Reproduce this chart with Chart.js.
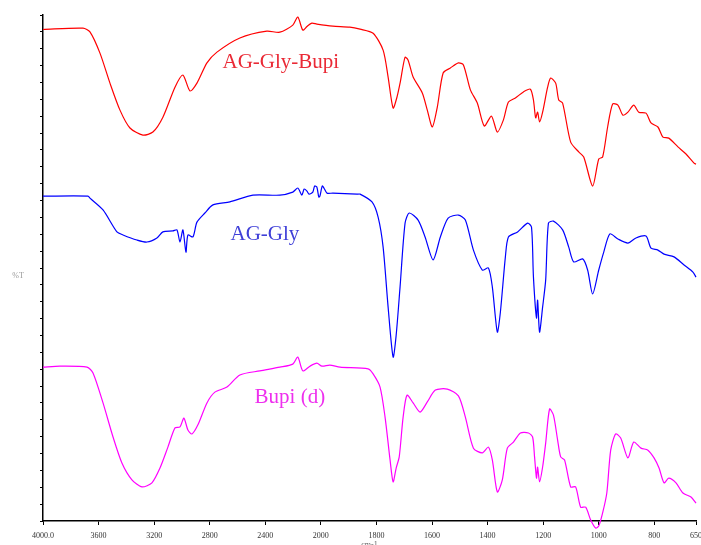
<!DOCTYPE html>
<html>
<head>
<meta charset="utf-8">
<script src="https://cdn.jsdelivr.net/npm/chart.js@4"></script>
<style>
    html, body { margin: 0; padding: 0; background: #fff; }
</style>
</head>
<body>
<canvas id="ftirChart" width="701" height="545"></canvas>
<script>
// x axis tick positions (cm-1) and their printed labels
const tickWavenumbers = [4000, 3600, 3200, 2800, 2400, 2000, 1800, 1600, 1400, 1200, 1000, 800, 650];
const tickLabels = ['4000.0', '3600', '3200', '2800', '2400', '2000', '1800', '1600', '1400', '1200', '1000', '800', '650'];

const seriesNames = ['AG-Gly-Bupi', 'AG-Gly', 'Bupi (d)'];

// AG-Gly-Bupi (red)
const redWn = [4000, 3712, 3662, 3590, 3518, 3446, 3374, 3281, 3209, 3137, 3050, 2993, 2942, 2892, 2820, 2748, 2583, 2389, 2295, 2202,
    2166, 2130, 2100, 2065, 2029, 1957, 1896, 1859, 1812, 1776, 1758, 1740, 1726, 1715, 1697, 1686, 1668, 1635, 1617, 1599,
    1581, 1560, 1534, 1505, 1487, 1462, 1437, 1412, 1386, 1365, 1343, 1325, 1300, 1271, 1246, 1235, 1227, 1220, 1213, 1202,
    1184, 1173, 1155, 1144, 1130, 1101, 1072, 1054, 1022, 1000, 986, 968, 950, 931, 913, 895, 874, 856, 830, 812,
    787, 769, 748, 715, 686, 657, 650];
const redT = [145.7, 146.1, 145.0, 138.7, 129.8, 121.8, 116.5, 114.4, 115.3, 119.7, 128.6, 132.2, 127.5, 129.8, 135.8, 139.0, 143.2, 145.2, 144.9, 147.0,
    149.4, 145.5, 146.6, 147.6, 147.3, 146.7, 146.4, 145.8, 144.6, 139.6, 131.6, 122.4, 125.7, 129.8, 137.5, 136.6, 131.6, 126.9, 121.8, 116.8,
    122.7, 132.8, 134.3, 135.8, 135.2, 127.8, 123.9, 117.1, 120.0, 115.3, 118.9, 124.2, 125.4, 127.2, 128.0, 124.8, 119.5, 121.2, 118.3, 121.2,
    128.6, 131.3, 129.8, 124.8, 123.9, 112.3, 109.4, 107.9, 99.3, 107.3, 107.9, 116.8, 123.6, 123.3, 120.3, 121.2, 123.3, 121.2, 120.9, 118.0,
    116.8, 113.8, 113.5, 110.9, 108.8, 106.1, 105.8];

// AG-Gly (blue)
const blueWn = [4000, 3676, 3662, 3568, 3468, 3424, 3324, 3252, 3180, 3137, 3065, 3036, 3014, 2993, 2971, 2957, 2921, 2892, 2835, 2777,
    2655, 2489, 2295, 2202, 2166, 2137, 2120, 2100, 2085, 2058, 2045, 2029, 2015, 2007, 1995, 1989, 1978, 1957, 1870, 1859,
    1816, 1794, 1776, 1758, 1740, 1729, 1715, 1697, 1682, 1650, 1625, 1596, 1570, 1542, 1505, 1480, 1451, 1419, 1397, 1383,
    1365, 1354, 1336, 1325, 1292, 1256, 1242, 1235, 1224, 1220, 1213, 1202, 1191, 1181, 1163, 1130, 1108, 1090, 1058, 1040,
    1022, 1000, 982, 960, 931, 895, 866, 830, 812, 787, 765, 729, 693, 661, 650];
const blueT = [96.3, 96.3, 95.7, 92.2, 85.7, 84.8, 83.3, 82.7, 83.9, 85.7, 86.0, 86.3, 82.7, 86.3, 79.7, 84.8, 84.2, 88.6, 91.3, 93.7,
    94.6, 96.6, 96.6, 97.5, 98.7, 96.6, 98.4, 97.8, 96.9, 97.5, 99.3, 99.0, 96.0, 96.3, 99.3, 98.7, 97.2, 97.2, 96.9, 96.9,
    94.6, 90.1, 81.2, 63.4, 48.6, 55.1, 69.4, 88.3, 91.3, 89.2, 84.2, 77.4, 84.2, 89.8, 90.7, 89.2, 80.3, 74.4, 75.0, 69.4,
    56.0, 61.9, 78.3, 84.2, 85.7, 88.3, 87.1, 72.3, 60.2, 65.5, 56.0, 63.4, 71.4, 88.3, 88.9, 86.3, 81.2, 76.8, 77.7, 74.4,
    67.3, 74.4, 79.7, 85.1, 83.6, 82.4, 83.9, 84.5, 80.9, 80.3, 79.1, 78.3, 75.9, 73.8, 72.3];

// Bupi (d) (magenta)
const magWn = [4000, 3878, 3683, 3640, 3568, 3496, 3432, 3360, 3288, 3216, 3158, 3101, 3050, 3014, 2986, 2957, 2928, 2885, 2820, 2763,
    2676, 2583, 2439, 2295, 2202, 2166, 2130, 2079, 2029, 1996, 1968, 1931, 1830, 1812, 1787, 1769, 1751, 1740, 1729, 1718,
    1704, 1690, 1668, 1643, 1617, 1588, 1545, 1505, 1480, 1451, 1419, 1397, 1383, 1365, 1347, 1329, 1307, 1282, 1253, 1238,
    1231, 1224, 1220, 1213, 1202, 1191, 1177, 1163, 1148, 1137, 1123, 1101, 1083, 1065, 1047, 1029, 1011, 1000, 986, 971,
    957, 939, 921, 895, 874, 848, 823, 801, 783, 765, 748, 722, 697, 668, 650];
const magT = [45.6, 45.9, 45.6, 43.9, 35.0, 24.9, 17.2, 12.2, 10.1, 11.3, 15.7, 21.9, 27.6, 27.9, 30.5, 27.0, 25.8, 28.5, 35.0, 38.2,
    39.7, 43.3, 44.5, 45.6, 46.5, 48.6, 44.5, 45.9, 46.8, 45.9, 46.2, 45.6, 45.1, 43.6, 39.7, 30.8, 18.1, 11.6, 15.7, 19.0,
    30.8, 37.3, 35.0, 32.3, 35.3, 38.8, 39.1, 37.1, 30.8, 21.6, 20.2, 21.9, 18.1, 8.6, 12.2, 21.6, 23.4, 26.1, 26.1, 24.9,
    19.0, 12.7, 16.0, 11.6, 16.0, 23.1, 33.2, 31.4, 24.0, 19.0, 18.1, 10.1, 10.1, 4.1, 4.1, 0.3, -2.1, -1.5, 2.4, 8.3,
    21.0, 25.8, 24.6, 18.7, 23.4, 21.6, 21.0, 18.7, 15.7, 11.3, 12.7, 11.3, 8.3, 7.1, 5.3];

// The instrument plot is compressed 2x above 2000 cm-1, so map wavenumber onto a linear axis
function axisPos(wn) {
    return wn >= 2000 ? (4000 - wn) / 2 : 1000 + (2000 - wn);
}

function toPoints(wn, t) {
    return wn.map((w, i) => ({ x: axisPos(w), y: t[i] }));
}

// Where the trace names sit, in cm-1 / %T
const labelAnchors = [
    { wn: 2288, t: 135.8, color: '#ea2a36' },
    { wn: 2403, t: 84.8, color: '#4040d8' },
    { wn: 2223, t: 36.5, color: '#ee30ee' }
];

const textPlugin = {
    id: 'spectrumText',
    afterDraw(chart) {
        const ctx = chart.ctx;
        const xs = chart.scales.x;
        const ys = chart.scales.y;
        ctx.save();
        ctx.textAlign = 'center';
        ctx.textBaseline = 'middle';
        ctx.font = '21px "Liberation Serif", "Times New Roman", serif';
        labelAnchors.forEach((a, i) => {
            ctx.fillStyle = a.color;
            ctx.fillText(seriesNames[i], xs.getPixelForValue(axisPos(a.wn)), ys.getPixelForValue(a.t));
        });
        // axis titles
        ctx.font = '8px "Liberation Serif", serif';
        ctx.fillStyle = '#999';
        ctx.fillText('%T', 18, 276);
        ctx.textBaseline = 'top';
        ctx.fillStyle = '#666';
        ctx.fillText('cm-1', (xs.left + xs.right) / 2, 541);
        ctx.restore();
    }
};

const ctx = document.getElementById('ftirChart').getContext('2d');

new Chart(ctx, {
    type: 'line',
    data: {
        datasets: [
            {
                label: seriesNames[0],
                data: toPoints(redWn, redT),
                borderColor: '#ff0000',
                borderWidth: 1.2,
                pointRadius: 0,
                tension: 0.25,
                clip: false
            },
            {
                label: seriesNames[1],
                data: toPoints(blueWn, blueT),
                borderColor: '#0000ff',
                borderWidth: 1.2,
                pointRadius: 0,
                tension: 0.25,
                clip: false
            },
            {
                label: seriesNames[2],
                data: toPoints(magWn, magT),
                borderColor: '#ff00ff',
                borderWidth: 1.2,
                pointRadius: 0,
                tension: 0.25,
                clip: false
            }
        ]
    },
    options: {
        responsive: false,
        animation: false,
        layout: {
            padding: { top: 15, right: 5, left: 0, bottom: 0 }
        },
        scales: {
            x: {
                type: 'linear',
                min: 0,
                max: axisPos(650),
                afterBuildTicks: scale => {
                    scale.ticks = tickWavenumbers.map(w => ({ value: axisPos(w) }));
                },
                afterFit: scale => {
                    scale.height = 24;
                    // don't let the end labels squeeze the plot
                    scale.paddingLeft = 0;
                    scale.paddingRight = 0;
                },
                ticks: {
                    autoSkip: false,
                    maxRotation: 0,
                    padding: 6,
                    color: '#333',
                    font: { family: '"Liberation Serif", serif', size: 8 },
                    callback: (value, index) => tickLabels[index]
                },
                grid: {
                    drawOnChartArea: false,
                    drawTicks: true,
                    tickLength: 4,
                    color: '#000'
                },
                border: { color: '#000', width: 1.5 }
            },
            y: {
                min: 0,
                max: 150,
                afterFit: scale => {
                    scale.width = 43;
                    scale.paddingTop = 0;
                    scale.paddingBottom = 0;
                },
                ticks: {
                    stepSize: 5,
                    display: false
                },
                grid: {
                    drawOnChartArea: false,
                    drawTicks: true,
                    tickLength: 3,
                    color: '#000'
                },
                border: { color: '#000', width: 1.5 }
            }
        },
        plugins: {
            legend: { display: false },
            tooltip: { enabled: false }
        }
    },
    plugins: [textPlugin]
});
</script>
</body>
</html>
